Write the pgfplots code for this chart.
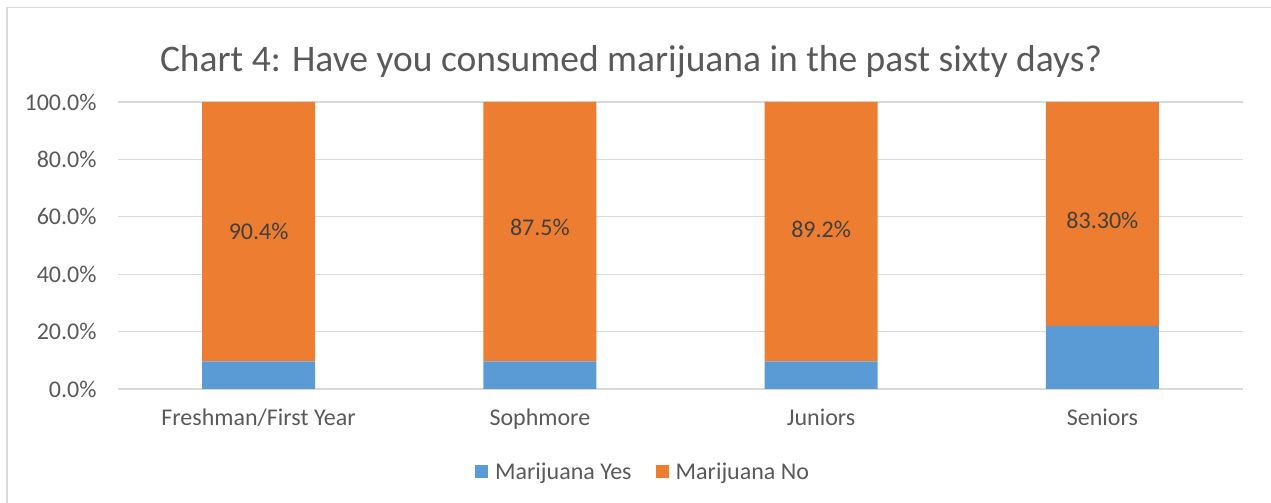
\documentclass[border=0pt]{standalone}
\usepackage{fontspec}
\setmainfont{Carlito}
\usepackage{pgfplots}
\pgfplotsset{compat=1.18}
\definecolor{cblue}{HTML}{5B9BD5}
\definecolor{corange}{HTML}{ED7D31}
\definecolor{ctext}{HTML}{595959}
\definecolor{cgrid}{HTML}{D9D9D9}
\definecolor{clabel}{HTML}{404040}
\begin{document}
\begin{tikzpicture}[x=1pt,y=1pt]
\useasboundingbox (0,0) rectangle (1271,503);
\draw[cgrid, line width=1.5pt] (7,-10) -- (7,495.5) -- (1290,495.5);
\node[text=ctext, font=\fontsize{37.5}{44}\selectfont] at (631,441) {Chart 4: Have you consumed marijuana in the past sixty days?};
\begin{axis}[
  at={(118pt,114pt)}, anchor=south west,
  scale only axis, width=1125pt, height=287pt,
  ybar stacked, bar width=113pt,
  xmin=-0.5, xmax=3.5, ymin=0, ymax=100,
  xtick={0,1,2,3},
  xticklabels={Freshman/First Year, Sophmore, Juniors, Seniors},
  ytick={0,20,40,60,80,100},
  yticklabels={0.0\%,20.0\%,40.0\%,60.0\%,80.0\%,100.0\%},
  ymajorgrids, major grid style={cgrid, line width=1.3pt},
  axis line style={draw=none}, tick style={draw=none},
  tick label style={font=\fontsize{24}{29}\selectfont, text=ctext},
  xticklabel style={anchor=base, yshift=-37pt},
  yticklabel style={anchor=east, xshift=-18pt},
  legend style={at={(0.4667,-0.289)}, anchor=center, draw=none, fill=none,
    legend columns=2, font=\fontsize{24}{29}\selectfont, text=ctext,
    /tikz/every odd column/.append style={column sep=5pt},
    /tikz/every even column/.append style={column sep=22pt}},
  legend image code/.code={\fill[#1] (0pt,-6.5pt) rectangle (13pt,6.5pt);},
]
\addplot[fill=cblue, draw=none] coordinates {(0,9.6) (1,9.6) (2,9.6) (3,22)};
\addplot[fill=corange, draw=none] coordinates {(0,90.4) (1,90.4) (2,90.4) (3,78)};
\legend{Marijuana Yes, Marijuana No}
\end{axis}
\begin{axis}[
  at={(118pt,114pt)}, anchor=south west,
  scale only axis, width=1125pt, height=287pt,
  xmin=-0.5, xmax=3.5, ymin=0, ymax=100, hide axis,
]
\addplot[only marks, mark=none, nodes near coords, point meta=explicit symbolic,
  every node near coord/.style={anchor=center, font=\fontsize{24}{29}\selectfont, text=clabel}]
  coordinates {(0,55.05) [90.4\%] (1,56.4) [87.5\%] (2,55.7) [89.2\%] (3,58.9) [83.30\%]};
\end{axis}
\end{tikzpicture}
\end{document}
